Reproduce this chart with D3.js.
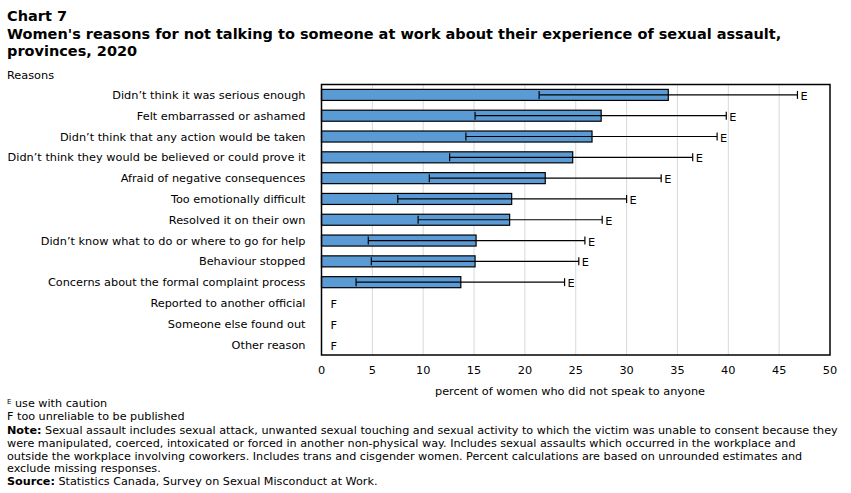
<!doctype html>
<html lang="en">
<head>
  <style>
    body { margin: 0; background: #fff; }
    svg text { font-family: "DejaVu Sans", Verdana, sans-serif; fill: #000; }
    .title { font-size: 14.5px; font-weight: bold; }
    .lbl { font-size: 11.3px; }
    .foot { font-size: 11.2px; }
  </style>
  <script src="https://d3js.org/d3.v7.min.js"></script>
</head>
<body>
  <script>
    const reasons = [
      "Didn’t think it was serious enough",
      "Felt embarrassed or ashamed",
      "Didn’t think that any action would be taken",
      "Didn’t think they would be believed or could prove it",
      "Afraid of negative consequences",
      "Too emotionally difficult",
      "Resolved it on their own",
      "Didn’t know what to do or where to go for help",
      "Behaviour stopped",
      "Concerns about the formal complaint process",
      "Reported to another official",
      "Someone else found out",
      "Other reason"
    ];
    // null = too unreliable to be published (F)
    const values = [34.1, 27.5, 26.6, 24.7, 22.0, 18.7, 18.5, 15.2, 15.1, 13.7, null, null, null];
    const lower  = [21.4, 15.1, 14.2, 12.6, 10.6, 7.5, 9.5, 4.6, 4.9, 3.4, null, null, null];
    const upper  = [46.8, 39.8, 38.9, 36.5, 33.4, 30.0, 27.6, 25.9, 25.3, 23.9, null, null, null];
    const flags  = ["E", "E", "E", "E", "E", "E", "E", "E", "E", "E", "F", "F", "F"];
    const xTicks = [0, 5, 10, 15, 20, 25, 30, 35, 40, 45, 50];

    const W = 851, H = 493;
    const plot = { left: 321.5, right: 830, top: 84.5, bottom: 355 };

    const svg = d3.select("body").append("svg")
      .attr("width", W).attr("height", H);

    // title
    const titleLines = [
      "Chart 7",
      "Women's reasons for not talking to someone at work about their experience of sexual assault,",
      "provinces, 2020"
    ];
    svg.append("g").selectAll("text").data(titleLines).join("text")
      .attr("class", "title")
      .attr("x", 7)
      .attr("y", (d, i) => 21 + i * 17.5)
      .text(d => d);

    svg.append("text").attr("class", "lbl")
      .attr("x", 7).attr("y", 79).text("Reasons");

    const x = d3.scaleLinear().domain([0, 50]).range([plot.left, plot.right]);
    const y = d3.scaleBand().domain(reasons).range([plot.top, plot.bottom]).paddingInner(0.47).paddingOuter(0.235);

    // gridlines
    svg.append("g").selectAll("line").data(xTicks.slice(1, -1)).join("line")
      .attr("x1", d => x(d)).attr("x2", d => x(d))
      .attr("y1", plot.top).attr("y2", plot.bottom)
      .attr("stroke", "#d9d9d9").attr("stroke-width", 1);

    const rows = reasons.map((r, i) => ({ r, v: values[i], lo: lower[i], hi: upper[i], f: flags[i] }));

    // bars
    svg.append("g").selectAll("rect").data(rows.filter(d => d.v !== null)).join("rect")
      .attr("x", x(0))
      .attr("y", d => y(d.r))
      .attr("width", d => x(d.v) - x(0))
      .attr("height", y.bandwidth())
      .attr("fill", "#5b9bd5")
      .attr("stroke", "#000").attr("stroke-width", 1.2);

    // error bars
    const eb = svg.append("g").attr("stroke", "#000").attr("stroke-width", 1.2);
    rows.filter(d => d.v !== null).forEach(d => {
      const cy = y(d.r) + y.bandwidth() / 2;
      eb.append("line").attr("x1", x(d.lo)).attr("x2", x(d.hi)).attr("y1", cy).attr("y2", cy);
      eb.append("line").attr("x1", x(d.lo)).attr("x2", x(d.lo)).attr("y1", cy - 4).attr("y2", cy + 4);
      eb.append("line").attr("x1", x(d.hi)).attr("x2", x(d.hi)).attr("y1", cy - 4).attr("y2", cy + 4);
    });

    // E / F flags
    svg.append("g").selectAll("text").data(rows).join("text")
      .attr("class", "lbl")
      .attr("x", d => d.v !== null ? x(d.hi) + 3 : x(0) + 9)
      .attr("y", d => y(d.r) + y.bandwidth() / 2 + 5)
      .text(d => d.f);

    // category labels
    svg.append("g").selectAll("text").data(reasons).join("text")
      .attr("class", "lbl")
      .attr("x", plot.left - 16)
      .attr("y", d => y(d) + y.bandwidth() / 2 + 4)
      .attr("text-anchor", "end")
      .text(d => d);

    // frame
    svg.append("rect")
      .attr("x", plot.left).attr("y", plot.top)
      .attr("width", plot.right - plot.left).attr("height", plot.bottom - plot.top)
      .attr("fill", "none").attr("stroke", "#000").attr("stroke-width", 1.5);

    // x axis tick labels
    svg.append("g").selectAll("text").data(xTicks).join("text")
      .attr("class", "lbl")
      .attr("x", d => x(d))
      .attr("y", 374)
      .attr("text-anchor", "middle")
      .text(d => d);

    svg.append("text").attr("class", "lbl")
      .attr("x", 570).attr("y", 395).attr("text-anchor", "middle")
      .text("percent of women who did not speak to anyone");

    // footnotes
    const foot = svg.append("g").attr("class", "foot");
    const l1 = foot.append("text").attr("class", "foot").attr("x", 7).attr("y", 407);
    l1.append("tspan").attr("font-size", "7px").attr("dy", "-3").text("E");
    l1.append("tspan").attr("dy", "3").text(" use with caution");
    foot.append("text").attr("class", "foot").attr("x", 7).attr("y", 420).text("F too unreliable to be published");
    const noteLines = [
      ["Note:", " Sexual assault includes sexual attack, unwanted sexual touching and sexual activity to which the victim was unable to consent because they"],
      ["", "were manipulated, coerced, intoxicated or forced in another non-physical way. Includes sexual assaults which occurred in the workplace and"],
      ["", "outside the workplace involving coworkers. Includes trans and cisgender women. Percent calculations are based on unrounded estimates and"],
      ["", "exclude missing responses."],
      ["Source:", " Statistics Canada, Survey on Sexual Misconduct at Work."]
    ];
    noteLines.forEach((l, i) => {
      const t = foot.append("text").attr("class", "foot").attr("x", 7).attr("y", 434 + i * 12.8);
      if (l[0]) t.append("tspan").attr("font-weight", "bold").text(l[0]);
      t.append("tspan").text(l[1]);
    });
  </script>
</body>
</html>
